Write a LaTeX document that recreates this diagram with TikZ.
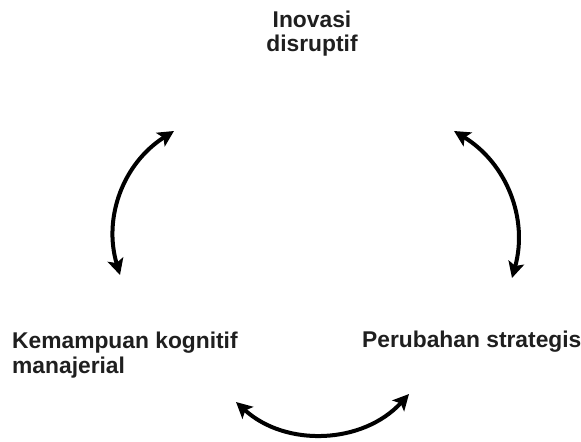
\documentclass[tikz,border=0pt]{standalone}
\usepackage{fontspec}
\setmainfont{Liberation Sans}
\usetikzlibrary{arrows.meta}

\begin{document}
\begin{tikzpicture}[
  x=1bp,y=-1bp,
  font=\fontsize{22.8bp}{24.5bp}\selectfont\bfseries,
  lbl/.style={inner sep=0pt,text=black!88},
  ar/.style={{Stealth[length=16bp,width=16bp,inset=3.5bp]}-{Stealth[length=16bp,width=16bp,inset=3.5bp]},line width=4bp}]

 \useasboundingbox (0,0) rectangle (581,442);

 % ---- labels ----
 \node[lbl,align=center,anchor=base] (inov) at (312,52) {Inovasi\\disruptif};
 \node[lbl,align=left,anchor=base west] (kog) at (12,373) {Kemampuan kognitif\\manajerial};
 \node[lbl,anchor=base west] (strat) at (362,347) {Perubahan strategis};

 % ---- arrow ends ----
 \coordinate (l1) at (174,131);
 \coordinate (l2) at (120,275);
 \coordinate (r1) at (454,131);
 \coordinate (r2) at (512,278);
 \coordinate (b1) at (236,402);
 \coordinate (b2) at (409,394);

 \draw[ar] (l1) to[bend right=37] (l2);
 \draw[ar] (r1) to[bend left=37] (r2);
 \draw[ar] (b1) to[bend right=45] (b2);
\end{tikzpicture}
\end{document}
